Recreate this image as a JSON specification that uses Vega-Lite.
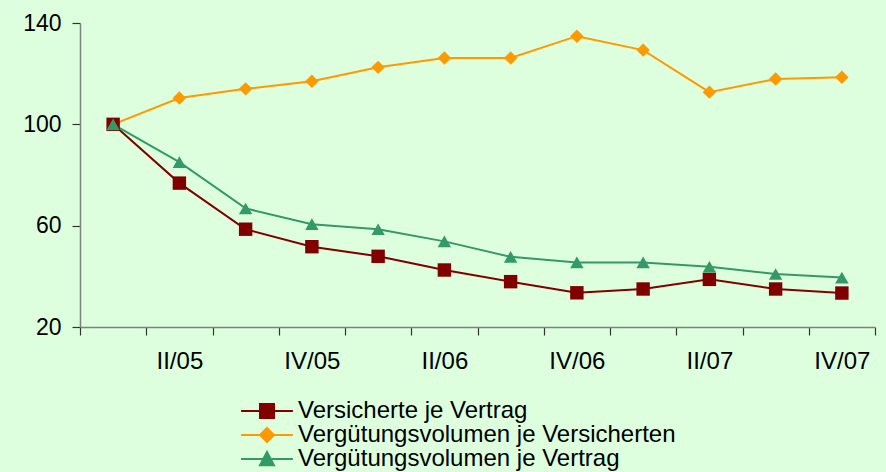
{
  "$schema": "https://vega.github.io/schema/vega-lite/v6.json",
  "width": 795,
  "height": 304,
  "autosize": "none",
  "padding": {"left": 80, "top": 23, "right": 11, "bottom": 145},
  "background": "#DDFFDD",
  "config": {
    "view": {"stroke": null},
    "font": "Liberation Sans",
    "axis": {"grid": false, "domainColor": "#808080", "tickColor": "#333333", "domainWidth": 1.5, "tickWidth": 1.2, "labelColor": "#000000", "labelFontSize": 23, "title": null, "tickSize": 8}
  },
  "data": {
    "values": [
      {"q": "I/05", "s": "Vergütungsvolumen je Versicherten", "v": 100},
      {"q": "II/05", "s": "Vergütungsvolumen je Versicherten", "v": 110.4},
      {"q": "III/05", "s": "Vergütungsvolumen je Versicherten", "v": 114},
      {"q": "IV/05", "s": "Vergütungsvolumen je Versicherten", "v": 117},
      {"q": "I/06", "s": "Vergütungsvolumen je Versicherten", "v": 122.5},
      {"q": "II/06", "s": "Vergütungsvolumen je Versicherten", "v": 126.2},
      {"q": "III/06", "s": "Vergütungsvolumen je Versicherten", "v": 126.2},
      {"q": "IV/06", "s": "Vergütungsvolumen je Versicherten", "v": 134.8},
      {"q": "I/07", "s": "Vergütungsvolumen je Versicherten", "v": 129.3},
      {"q": "II/07", "s": "Vergütungsvolumen je Versicherten", "v": 112.7},
      {"q": "III/07", "s": "Vergütungsvolumen je Versicherten", "v": 117.9},
      {"q": "IV/07", "s": "Vergütungsvolumen je Versicherten", "v": 118.6},
      {"q": "I/05", "s": "Versicherte je Vertrag", "v": 100},
      {"q": "II/05", "s": "Versicherte je Vertrag", "v": 76.8},
      {"q": "III/05", "s": "Versicherte je Vertrag", "v": 58.6},
      {"q": "IV/05", "s": "Versicherte je Vertrag", "v": 51.7},
      {"q": "I/06", "s": "Versicherte je Vertrag", "v": 47.9},
      {"q": "II/06", "s": "Versicherte je Vertrag", "v": 42.5},
      {"q": "III/06", "s": "Versicherte je Vertrag", "v": 37.9},
      {"q": "IV/06", "s": "Versicherte je Vertrag", "v": 33.5},
      {"q": "I/07", "s": "Versicherte je Vertrag", "v": 35},
      {"q": "II/07", "s": "Versicherte je Vertrag", "v": 38.8},
      {"q": "III/07", "s": "Versicherte je Vertrag", "v": 35},
      {"q": "IV/07", "s": "Versicherte je Vertrag", "v": 33.4},
      {"q": "I/05", "s": "Vergütungsvolumen je Vertrag", "v": 100},
      {"q": "II/05", "s": "Vergütungsvolumen je Vertrag", "v": 85.1},
      {"q": "III/05", "s": "Vergütungsvolumen je Vertrag", "v": 66.8},
      {"q": "IV/05", "s": "Vergütungsvolumen je Vertrag", "v": 60.6},
      {"q": "I/06", "s": "Vergütungsvolumen je Vertrag", "v": 58.6},
      {"q": "II/06", "s": "Vergütungsvolumen je Vertrag", "v": 53.8},
      {"q": "III/06", "s": "Vergütungsvolumen je Vertrag", "v": 47.7},
      {"q": "IV/06", "s": "Vergütungsvolumen je Vertrag", "v": 45.5},
      {"q": "I/07", "s": "Vergütungsvolumen je Vertrag", "v": 45.5},
      {"q": "II/07", "s": "Vergütungsvolumen je Vertrag", "v": 43.8},
      {"q": "III/07", "s": "Vergütungsvolumen je Vertrag", "v": 40.9},
      {"q": "IV/07", "s": "Vergütungsvolumen je Vertrag", "v": 39.5}
    ]
  },
  "encoding": {
    "x": {
      "field": "q", "type": "ordinal", "sort": null,
      "scale": {"type": "band", "paddingInner": 0, "paddingOuter": 0},
      "axis": {
        "labelAngle": 0, "tickBand": "extent", "labelPadding": 14, "labelFontSize": 24,
        "labelExpr": "indexof(['II/05','IV/05','II/06','IV/06','II/07','IV/07'], datum.label) >= 0 ? datum.label : ''"
      }
    },
    "y": {
      "field": "v", "type": "quantitative",
      "scale": {"domain": [20, 140], "nice": false, "zero": false},
      "axis": {"values": [20, 60, 100, 140], "labelPadding": 11}
    },
    "color": {
      "field": "s", "type": "nominal",
      "scale": {
        "domain": ["Versicherte je Vertrag", "Vergütungsvolumen je Versicherten", "Vergütungsvolumen je Vertrag"],
        "range": ["#800000", "#FF9900", "#339966"]
      },
      "legend": {
        "title": null,
        "orient": "none",
        "legendX": 175,
        "legendY": 376,
        "direction": "vertical",
        "labelFontSize": 24,
        "labelColor": "#000000",
        "labelOffset": 19,
        "symbolSize": 196,
        "symbolStrokeWidth": 2,
        "symbolOpacity": 1,
        "rowPadding": 0,
        "padding": 0,
        "labelLimit": 600
      }
    }
  },
  "layer": [
    {
      "mark": {"type": "point", "filled": true, "opacity": 1, "size": 0, "strokeWidth": 2},
      "encoding": {
        "stroke": {
          "field": "s", "type": "nominal",
          "scale": {
            "domain": ["Versicherte je Vertrag", "Vergütungsvolumen je Versicherten", "Vergütungsvolumen je Vertrag"],
            "range": ["#800000", "#FF9900", "#339966"]
          }
        },
        "shape": {
          "field": "s", "type": "nominal",
          "scale": {
            "domain": ["Versicherte je Vertrag", "Vergütungsvolumen je Versicherten", "Vergütungsvolumen je Vertrag"],
            "range": ["M-3.7,0H3.7M-1,-1H1V1H-1Z", "M-3.7,0H3.7M0,-1L1,0L0,1L-1,0Z", "M-3.7,0H3.7M0,-1L1,0.9H-1Z"]
          }
        }
      }
    },
    {
      "mark": {"type": "line", "strokeWidth": 2}
    },
    {
      "transform": [{"filter": "datum.s == 'Vergütungsvolumen je Versicherten'"}],
      "mark": {"type": "point", "filled": true, "opacity": 1, "shape": "diamond", "size": 180}
    },
    {
      "transform": [{"filter": "datum.s == 'Versicherte je Vertrag'"}],
      "mark": {"type": "point", "filled": true, "opacity": 1, "shape": "square", "size": 180}
    },
    {
      "transform": [{"filter": "datum.s == 'Vergütungsvolumen je Vertrag'"}],
      "mark": {"type": "point", "filled": true, "opacity": 1, "shape": "triangle-up", "size": 180}
    }
  ]
}
